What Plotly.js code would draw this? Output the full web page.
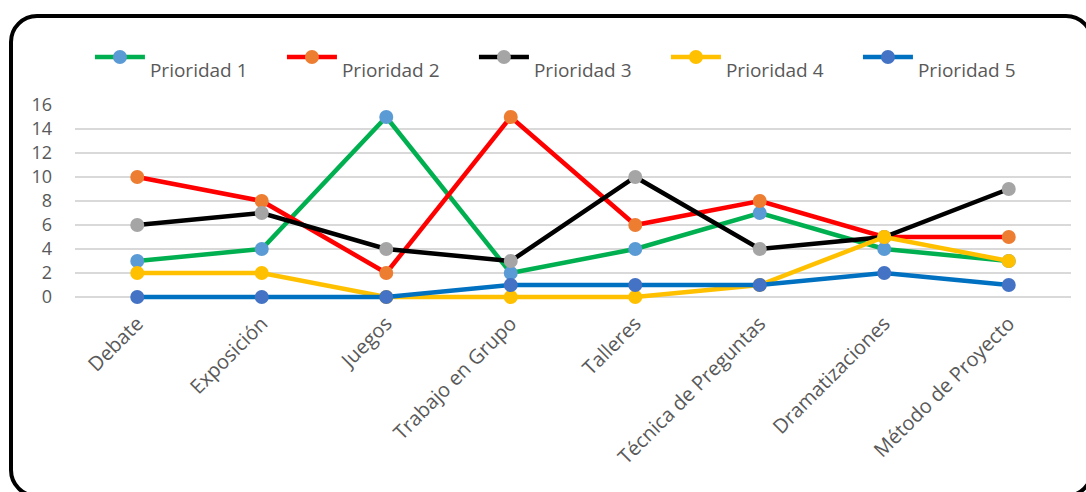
<!DOCTYPE html>
<html>
<head>
<meta charset="utf-8">
<script src="https://cdn.plot.ly/plotly-3.0.1.min.js"></script>
<style>
  html, body { margin:0; padding:0; background:#fff; overflow:hidden; }
  #wrap { position:relative; width:1086px; height:492px; overflow:hidden; }
  #chart { position:absolute; left:0; top:0; width:1086px; height:492px; }
  #frame { position:absolute; left:9px; top:14px; width:1085px; height:484px;
           border:4px solid #000; border-radius:28px; pointer-events:none; box-sizing:border-box; }
</style>
</head>
<body>
<div id="wrap">
  <div id="chart"></div>
  <div id="frame"></div>
</div>
<script>
const categories = ["Debate", "Exposición", "Juegos", "Trabajo en Grupo", "Talleres",
                    "Técnica de Preguntas", "Dramatizaciones", "Método de Proyecto"];
const seriesNames = ["Prioridad 1", "Prioridad 2", "Prioridad 3", "Prioridad 4", "Prioridad 5"];
const prioridad1 = [3, 4, 15, 2, 4, 7, 4, 3];
const prioridad2 = [10, 8, 2, 15, 6, 8, 5, 5];
const prioridad3 = [6, 7, 4, 3, 10, 4, 5, 9];
const prioridad4 = [2, 2, 0, 0, 0, 1, 5, 3];
const prioridad5 = [0, 0, 0, 1, 1, 1, 2, 1];
const yTicks = [0, 2, 4, 6, 8, 10, 12, 14, 16];

const lineColors = ["#00B050", "#FF0000", "#000000", "#FFC000", "#0070C0"];
const markerColors = ["#5B9BD5", "#ED7D31", "#A5A5A5", "#FFC000", "#4472C4"];
const allSeries = [prioridad1, prioridad2, prioridad3, prioridad4, prioridad5];

const traces = allSeries.map((vals, i) => ({
  type: "scatter",
  mode: "lines+markers",
  x: categories,
  y: vals,
  name: "<br>" + seriesNames[i],
  line: { color: lineColors[i], width: 4.5 },
  marker: { color: markerColors[i], size: 14 },
  cliponaxis: false
}));

const layout = {
  width: 1086,
  height: 492,
  paper_bgcolor: "#ffffff",
  plot_bgcolor: "#ffffff",
  margin: { l: 75, r: 15, t: 105, b: 189 },
  font: { family: "Open Sans, sans-serif", color: "#595959" },
  showlegend: true,
  legend: {
    orientation: "h",
    x: 0.015, xanchor: "left",
    y: 1.40, yanchor: "top",
    valign: "middle",
    font: { size: 19, color: "#595959" },
    entrywidth: 127,
    entrywidthmode: "pixels",
    itemwidth: 50,
    tracegroupgap: 0,
    bgcolor: "rgba(0,0,0,0)"
  },
  xaxis: {
    type: "category",
    tickangle: -45,
    tickfont: { size: 20, color: "#595959" },
    showgrid: false,
    showline: false,
    zeroline: false,
    ticks: "",
    ticklabelstandoff: 4,
    range: [-0.5, 7.5]
  },
  yaxis: {
    range: [-0.5, 16],
    tickvals: yTicks,
    ticktext: yTicks.map(String),
    tickfont: { size: 18, color: "#595959" },
    showgrid: true,
    gridcolor: "#D9D9D9",
    gridwidth: 1.5,
    zeroline: false,
    showline: false,
    ticks: "",
    ticklabelstandoff: 22
  }
};

Plotly.newPlot("chart", traces, layout, { displayModeBar: false, staticPlot: true });
</script>
</body>
</html>
